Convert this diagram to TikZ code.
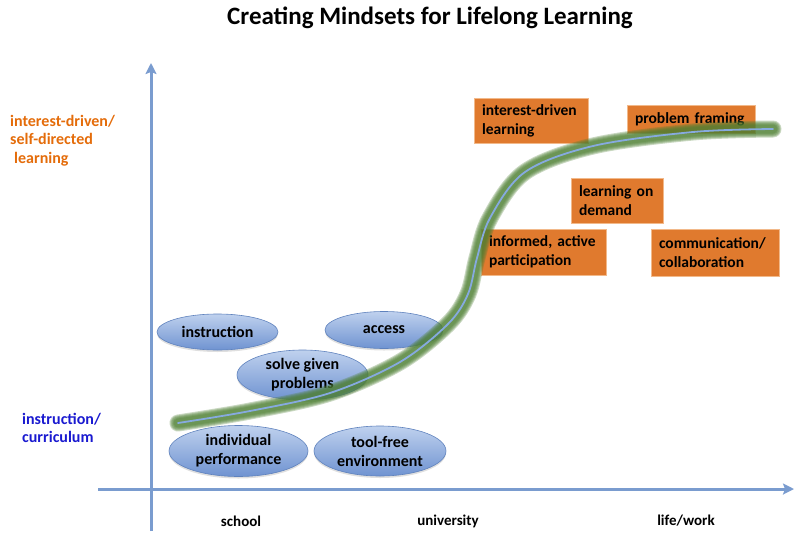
\documentclass[tikz,border=0pt]{standalone}
\usepackage{fontspec}
\setmainfont{Carlito}
\usetikzlibrary{arrows.meta,shapes.geometric,shadows}
\definecolor{axisblue}{HTML}{7A9CCF}
\definecolor{ellborder}{HTML}{5F82BD}
\definecolor{elltop}{HTML}{BFD1EE}
\definecolor{ellbot}{HTML}{6F93D1}
\definecolor{boxorange}{HTML}{E07A2E}
\definecolor{boxedge}{HTML}{F2B98A}
\definecolor{labelorange}{HTML}{E46C0A}
\definecolor{labelblue}{HTML}{1A1AD0}
\definecolor{curvegreen}{HTML}{4E7F33}
\definecolor{curveblue}{HTML}{86AADF}
\tikzset{
  axis/.style={draw=axisblue, line width=3pt, -{Stealth[length=11pt,width=11pt,inset=2pt]}},
  idea/.style={ellipse, draw=ellborder, line width=0.6pt, top color=elltop, bottom color=ellbot,
    font=\fontsize{16}{19}\selectfont\bfseries, align=center, inner sep=0pt,
    drop shadow={shadow xshift=0pt, shadow yshift=-2pt, opacity=0.25}},
  mindset/.style={rectangle, draw=boxedge, line width=0.8pt, fill=boxorange,
    font=\fontsize{15.5}{19}\selectfont\bfseries, align=left, inner xsep=8pt, inner ysep=0pt},
  stage/.style={font=\fontsize{15}{17}\selectfont\bfseries},
  sidelabel/.style={anchor=north west, align=left, inner sep=0pt, font=\fontsize{16}{18.5}\selectfont\bfseries}
}
\begin{document}
\begin{tikzpicture}[x=1pt,y=-1pt]
\useasboundingbox (0,0) rectangle (794,535);

% title
\node[font=\fontsize{25}{28}\selectfont\bfseries] (title) at (430,18) {Creating Mindsets for Lifelong Learning};

% axes
\coordinate (ybot) at (151,531);
\coordinate (ytop) at (151,63);
\coordinate (xleft) at (98,489);
\coordinate (xright) at (794,489);
\draw[axis] (ybot) -- (ytop);
\draw[axis] (xleft) -- (xright);

% stages along the horizontal axis
\node[stage] (school) at (241,521) {school};
\node[stage] (university) at (448,521) {university};
\node[stage] (lifework) at (686,521) {life/work};

% levels along the vertical axis
\node[sidelabel, text=labelorange] (selfdir) at (10,115) {interest-driven/\\self-directed\\\hspace*{4pt}learning};
\node[sidelabel, text=labelblue] (instr) at (22,413) {instruction/\\curriculum};

% school-side ideas
\node[idea, minimum width=121pt, minimum height=36pt] (instruction) at (217.5,332) {instruction};
\node[idea, minimum width=118pt, minimum height=37pt] (access) at (384,330) {access};
\node[idea, minimum width=131pt, minimum height=50pt] (solve) at (302.5,375) {solve given\\problems};
\node[idea, minimum width=139pt, minimum height=51pt] (individual) at (238.5,451) {individual\\performance};
\node[idea, minimum width=132pt, minimum height=50pt] (toolfree) at (380,451) {tool-free\\environment};

% life-side mindsets
\node[mindset, text width=98pt, minimum height=45pt] (interest) at (531,120.5) {interest-driven\\learning};
\node[mindset, text width=112pt, minimum height=28pt] (framing) at (691,119) {problem framing};
\node[mindset, text width=76pt, minimum height=45pt] (demand) at (617,200.5) {learning on\\demand};
\node[mindset, text width=109pt, minimum height=46pt] (informed) at (543.5,252) {informed, active\\participation};
\node[mindset, text width=112pt, minimum height=47pt] (communication) at (715,252.5) {communication/\\collaboration};

% the growth curve: a soft green band with a thin blue line along it, laid over the shapes
\def\growth{plot[smooth, tension=0.55] coordinates {(178,423) (250,411) (330,393) (400,362) (448,324) (468,294) (477,258) (490,218) (525,172) (593,146) (693,132) (773,129)}}
\foreach \w in {17,15,13,11,9} {
  \draw[curvegreen, line width=\w pt, opacity=0.3, line cap=round] \growth;
}
\draw[curveblue, line width=1.8pt, line cap=round] \growth;
\end{tikzpicture}
\end{document}
